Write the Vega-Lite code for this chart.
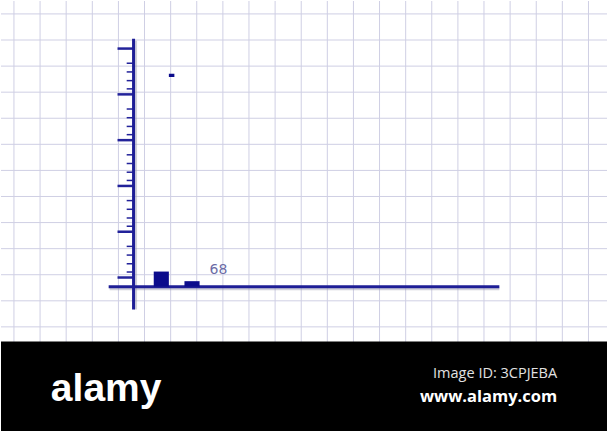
{
  "$schema": "https://vega.github.io/schema/vega-lite/v6.json",
  "description": "Sketch of a bar chart on graph paper, with a footer band",
  "width": 608,
  "height": 432,
  "autosize": {"type": "fit", "contains": "padding"},
  "padding": 0,
  "background": "#ffffff",
  "config": {"view": {"stroke": null}},
  "datasets": {
    "grid": [
      {"dir": "v", "pos": -26.09}, {"dir": "v", "pos": -20.39}, {"dir": "v", "pos": -14.70},
      {"dir": "v", "pos": -9.00}, {"dir": "v", "pos": -3.30}, {"dir": "v", "pos": 2.39},
      {"dir": "v", "pos": 8.09}, {"dir": "v", "pos": 13.78}, {"dir": "v", "pos": 19.48},
      {"dir": "v", "pos": 25.17}, {"dir": "v", "pos": 30.87}, {"dir": "v", "pos": 36.57},
      {"dir": "v", "pos": 42.26}, {"dir": "v", "pos": 47.96}, {"dir": "v", "pos": 53.65},
      {"dir": "v", "pos": 59.35}, {"dir": "v", "pos": 65.04}, {"dir": "v", "pos": 70.74},
      {"dir": "v", "pos": 76.43}, {"dir": "v", "pos": 82.13}, {"dir": "v", "pos": 87.83},
      {"dir": "v", "pos": 93.52}, {"dir": "v", "pos": 99.22},
      {"dir": "h", "pos": 59.57}, {"dir": "h", "pos": 53.87}, {"dir": "h", "pos": 48.17},
      {"dir": "h", "pos": 42.48}, {"dir": "h", "pos": 36.78}, {"dir": "h", "pos": 31.09},
      {"dir": "h", "pos": 25.39}, {"dir": "h", "pos": 19.70}, {"dir": "h", "pos": 14.00},
      {"dir": "h", "pos": 8.30}, {"dir": "h", "pos": 2.61}, {"dir": "h", "pos": -3.09},
      {"dir": "h", "pos": -8.78}
    ],
    "ticks": [
      {"kind": "major", "v": 52}, {"kind": "major", "v": 42}, {"kind": "major", "v": 32},
      {"kind": "major", "v": 22}, {"kind": "major", "v": 12}, {"kind": "major", "v": 2},
      {"kind": "minor", "v": 48.8}, {"kind": "minor", "v": 46.9}, {"kind": "minor", "v": 45.0}, {"kind": "minor", "v": 43.2},
      {"kind": "minor", "v": 38.8}, {"kind": "minor", "v": 36.9}, {"kind": "minor", "v": 35.0}, {"kind": "minor", "v": 33.2},
      {"kind": "minor", "v": 28.8}, {"kind": "minor", "v": 26.9}, {"kind": "minor", "v": 25.0}, {"kind": "minor", "v": 23.2},
      {"kind": "minor", "v": 18.8}, {"kind": "minor", "v": 16.9}, {"kind": "minor", "v": 15.0}, {"kind": "minor", "v": 13.2},
      {"kind": "minor", "v": 8.8}, {"kind": "minor", "v": 6.9}, {"kind": "minor", "v": 5.0}, {"kind": "minor", "v": 3.2}
    ],
    "bars": [
      {"bin_start": 4.4, "bin_end": 7.7, "low": 0, "value": 3.3},
      {"bin_start": 11.1, "bin_end": 14.4, "low": 0, "value": 1.2},
      {"bin_start": 7.7, "bin_end": 8.9, "low": 45.8, "value": 46.5}
    ],
    "labels": [
      {"label": "68", "at": 18.5, "value": 2.72}
    ]
  },
  "layer": [
    {
      "data": {"name": "grid"},
      "transform": [{"filter": "datum.dir == 'v'"}],
      "mark": {"type": "rule", "color": "#cfcfe4", "strokeWidth": 1},
      "encoding": {
        "x": {"field": "pos", "type": "quantitative", "axis": null, "scale": {"domain": [-28.913, 103.261], "nice": false, "zero": false}}
      }
    },
    {
      "data": {"name": "grid"},
      "transform": [{"filter": "datum.dir == 'h'"}],
      "mark": {"type": "rule", "color": "#cfcfe4", "strokeWidth": 1},
      "encoding": {
        "y": {"field": "pos", "type": "quantitative", "axis": null, "scale": {"domain": [-31.522, 62.391], "nice": false, "zero": false}}
      }
    },
    {
      "data": {"values": [{"axis": "y"}]},
      "mark": {"type": "rule", "color": "#9a9aae", "opacity": 0.45, "strokeWidth": 3, "xOffset": 2, "yOffset": 2},
      "encoding": {
        "x": {"datum": 0, "type": "quantitative", "axis": null, "scale": {"domain": [-28.913, 103.261], "nice": false, "zero": false}},
        "y": {"datum": 54.13, "type": "quantitative", "axis": null, "scale": {"domain": [-31.522, 62.391], "nice": false, "zero": false}},
        "y2": {"datum": -5.0}
      }
    },
    {
      "data": {"values": [{"axis": "x"}]},
      "mark": {"type": "rule", "color": "#9a9aae", "opacity": 0.45, "strokeWidth": 3, "xOffset": 1, "yOffset": 2},
      "encoding": {
        "y": {"datum": 0, "type": "quantitative", "axis": null, "scale": {"domain": [-31.522, 62.391], "nice": false, "zero": false}},
        "x": {"datum": -5.43, "type": "quantitative", "axis": null, "scale": {"domain": [-28.913, 103.261], "nice": false, "zero": false}},
        "x2": {"datum": 79.78}
      }
    },
    {
      "data": {"name": "ticks"},
      "transform": [{"filter": "datum.kind == 'major'"}],
      "mark": {"type": "rule", "color": "#22229a", "strokeWidth": 2.5},
      "encoding": {
        "y": {"field": "v", "type": "quantitative", "axis": null, "scale": {"domain": [-31.522, 62.391], "nice": false, "zero": false}},
        "x": {"datum": -3.5, "type": "quantitative", "axis": null, "scale": {"domain": [-28.913, 103.261], "nice": false, "zero": false}},
        "x2": {"datum": 0}
      }
    },
    {
      "data": {"name": "ticks"},
      "transform": [{"filter": "datum.kind == 'minor'"}],
      "mark": {"type": "rule", "color": "#22229a", "strokeWidth": 1.5},
      "encoding": {
        "y": {"field": "v", "type": "quantitative", "axis": null, "scale": {"domain": [-31.522, 62.391], "nice": false, "zero": false}},
        "x": {"datum": -1.5, "type": "quantitative", "axis": null, "scale": {"domain": [-28.913, 103.261], "nice": false, "zero": false}},
        "x2": {"datum": 0}
      }
    },
    {
      "data": {"values": [{"axis": "y"}]},
      "mark": {"type": "rule", "color": "#1e1e96", "strokeWidth": 3},
      "encoding": {
        "x": {"datum": 0, "type": "quantitative", "axis": null, "scale": {"domain": [-28.913, 103.261], "nice": false, "zero": false}},
        "y": {"datum": 54.13, "type": "quantitative", "axis": null, "scale": {"domain": [-31.522, 62.391], "nice": false, "zero": false}},
        "y2": {"datum": -5.0}
      }
    },
    {
      "data": {"values": [{"axis": "x"}]},
      "mark": {"type": "rule", "color": "#1e1e96", "strokeWidth": 3},
      "encoding": {
        "y": {"datum": 0, "type": "quantitative", "axis": null, "scale": {"domain": [-31.522, 62.391], "nice": false, "zero": false}},
        "x": {"datum": -5.43, "type": "quantitative", "axis": null, "scale": {"domain": [-28.913, 103.261], "nice": false, "zero": false}},
        "x2": {"datum": 79.78}
      }
    },
    {
      "data": {"name": "bars"},
      "mark": {"type": "rect", "color": "#0c0c8c"},
      "encoding": {
        "x": {"field": "bin_start", "type": "quantitative", "axis": null, "scale": {"domain": [-28.913, 103.261], "nice": false, "zero": false}},
        "x2": {"field": "bin_end"},
        "y": {"field": "value", "type": "quantitative", "axis": null, "scale": {"domain": [-31.522, 62.391], "nice": false, "zero": false}},
        "y2": {"field": "low"}
      }
    },
    {
      "data": {"name": "labels"},
      "mark": {"type": "text", "font": "DejaVu Sans", "fontSize": 14, "color": "#6c6ca6", "align": "center", "baseline": "alphabetic"},
      "encoding": {
        "x": {"field": "at", "type": "quantitative", "axis": null, "scale": {"domain": [-28.913, 103.261], "nice": false, "zero": false}},
        "y": {"field": "value", "type": "quantitative", "axis": null, "scale": {"domain": [-31.522, 62.391], "nice": false, "zero": false}},
        "text": {"field": "label"}
      }
    },
    {
      "data": {"values": [{"band": "footer"}]},
      "mark": {"type": "rect", "color": "#000000"},
      "encoding": {
        "x": {"datum": -28.913, "type": "quantitative", "axis": null, "scale": {"domain": [-28.913, 103.261], "nice": false, "zero": false}},
        "x2": {"datum": 103.261},
        "y": {"datum": -11.96, "type": "quantitative", "axis": null, "scale": {"domain": [-31.522, 62.391], "nice": false, "zero": false}},
        "y2": {"datum": -31.522}
      }
    },
    {
      "data": {"values": [{"text": "alamy"}]},
      "mark": {"type": "text", "font": "Liberation Sans", "fontWeight": "bold", "fontSize": 39, "color": "#ffffff", "align": "left", "baseline": "alphabetic"},
      "encoding": {
        "x": {"datum": -18.04, "type": "quantitative", "axis": null, "scale": {"domain": [-28.913, 103.261], "nice": false, "zero": false}},
        "y": {"datum": -25.0, "type": "quantitative", "axis": null, "scale": {"domain": [-31.522, 62.391], "nice": false, "zero": false}},
        "text": {"field": "text"}
      }
    },
    {
      "data": {"values": [{"text": "Image ID: 3CPJEBA"}]},
      "mark": {"type": "text", "font": "Open Sans", "fontSize": 14.5, "color": "#e2e2e2", "align": "right", "baseline": "alphabetic"},
      "encoding": {
        "x": {"datum": 92.39, "type": "quantitative", "axis": null, "scale": {"domain": [-28.913, 103.261], "nice": false, "zero": false}},
        "y": {"datum": -20.0, "type": "quantitative", "axis": null, "scale": {"domain": [-31.522, 62.391], "nice": false, "zero": false}},
        "text": {"field": "text"}
      }
    },
    {
      "data": {"values": [{"text": "www.alamy.com"}]},
      "mark": {"type": "text", "font": "Open Sans", "fontWeight": "bold", "fontSize": 16.5, "color": "#ffffff", "align": "right", "baseline": "alphabetic"},
      "encoding": {
        "x": {"datum": 92.39, "type": "quantitative", "axis": null, "scale": {"domain": [-28.913, 103.261], "nice": false, "zero": false}},
        "y": {"datum": -25.2, "type": "quantitative", "axis": null, "scale": {"domain": [-31.522, 62.391], "nice": false, "zero": false}},
        "text": {"field": "text"}
      }
    }
  ]
}
